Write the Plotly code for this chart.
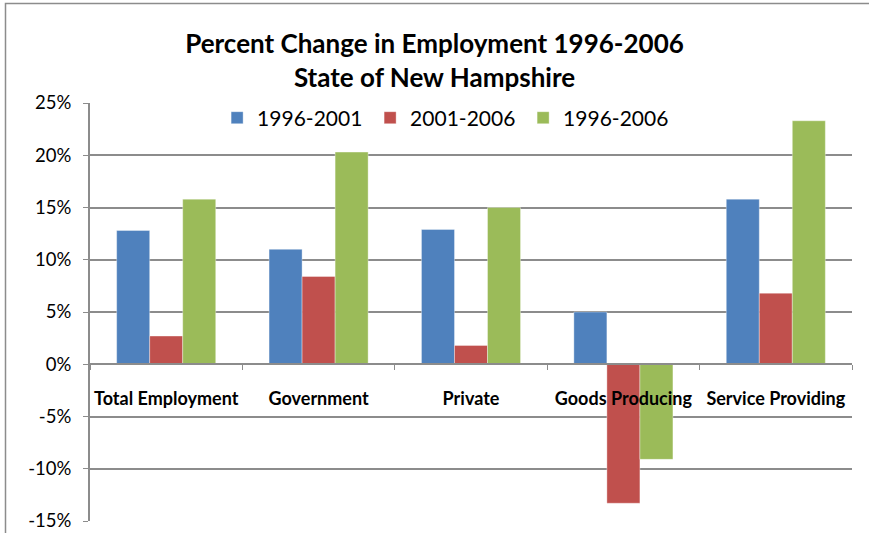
import plotly.graph_objects as go

categories = ["Total Employment", "Government", "Private", "Goods Producing", "Service Providing"]
series_names = ["1996-2001", "2001-2006", "1996-2006"]
v_1996_2001 = [12.8, 11.0, 12.9, 5.0, 15.8]
v_2001_2006 = [2.7, 8.4, 1.8, -13.3, 6.8]
v_1996_2006 = [15.8, 20.3, 15.0, -9.1, 23.3]
colors = ["#4F81BD", "#C0504D", "#9BBB59"]
y_ticks = [-15, -10, -5, 0, 5, 10, 15, 20, 25]

ymin, ymax = -15, 25
FONT = "Lato"

fig = go.Figure()
for name, vals, col in zip(series_names, [v_1996_2001, v_2001_2006, v_1996_2006], colors):
    fig.add_trace(go.Bar(
        name=name, x=categories, y=vals,
        marker=dict(color=col, line=dict(color="rgba(255,255,255,0.6)", width=0.6)),
    ))

grid = "#8C8C8C"
fig.update_layout(
    width=869, height=533,
    margin=dict(l=90, r=17, t=103, b=12),
    paper_bgcolor="white", plot_bgcolor="white",
    barmode="group", bargap=0.35, bargroupgap=0,
    title=dict(
        text="Percent Change in Employment 1996-2006<br>State of New Hampshire",
        x=0.5, xref="container", xanchor="center",
        y=0.9, yref="container", yanchor="middle",
        font=dict(family=FONT, size=26, color="black", weight="bold"),
    ),
    legend=dict(
        orientation="h", x=0.468, xanchor="center", y=0.964, yanchor="middle",
        font=dict(family=FONT, size=21, color="black"),
        bgcolor="rgba(0,0,0,0)", traceorder="normal",
        entrywidth=108,
    ),
    xaxis=dict(
        anchor="free", position=(0 - ymin) / (ymax - ymin), automargin=False,
        showline=True, linecolor=grid, linewidth=2,
        ticks="outside", tickson="boundaries", ticklen=5, tickcolor=grid, tickwidth=1,
        showgrid=False, tickangle=0,
        tickfont=dict(family=FONT, size=18, color="black", weight="bold"),
        ticklabelstandoff=18,
    ),
    yaxis=dict(
        range=[ymin, ymax], tickvals=y_ticks, ticktext=[f"{t}%" for t in y_ticks],
        automargin=False,
        showline=True, linecolor=grid, linewidth=2,
        ticks="outside", ticklen=5, tickcolor=grid,
        showgrid=True, gridcolor=grid, gridwidth=1.5,
        zeroline=False,
        tickfont=dict(family=FONT, size=18.5, color="black"),
        ticklabelstandoff=8,
    ),
)

# outer chart frame (top and left edges visible)
fig.add_shape(type="rect", xref="paper", yref="paper",
              x0=(5.5 - 90) / 762, x1=1.1, y0=-0.2, y1=1 + (103 - 3.5) / 418,
              line=dict(color="#8C8C8C", width=1.5), layer="below")

fig.write_html("out.html")
